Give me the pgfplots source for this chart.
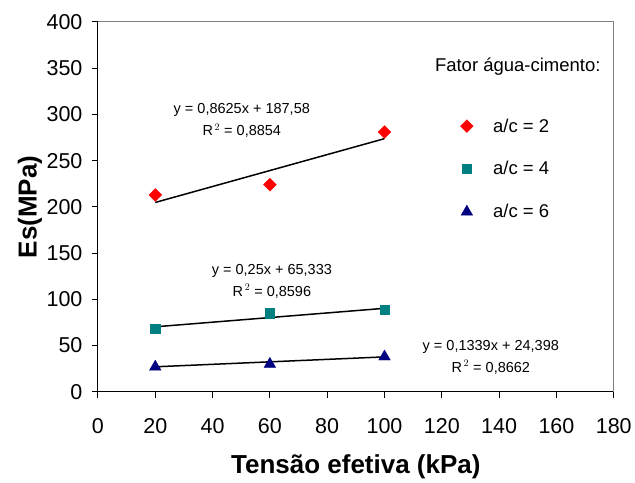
\documentclass[border=0pt]{standalone}
\usepackage{fontspec}
\setmainfont{Liberation Sans}
\usepackage{pgfplots}
\pgfplotsset{compat=1.18}
\definecolor{cred}{RGB}{255,0,0}
\definecolor{cteal}{RGB}{0,128,128}
\definecolor{cnavy}{RGB}{0,0,128}
\begin{document}
\begin{tikzpicture}
\begin{axis}[
  scale only axis, width=516pt, height=370pt,
  xmin=0, xmax=180, ymin=0, ymax=400,
  xtick={0,20,...,180}, ytick={0,50,...,400},
  axis x line*=bottom, axis y line*=left,
  axis line style={-, line width=1pt},
  tick align=outside, major tick length=6pt,
  tick style={black, line width=1pt},
  /pgf/number format/assume math mode=true,
  ticklabel style={font=\fontsize{21.5}{24}\selectfont},
  xticklabel style={yshift=-17pt},
  yticklabel style={xshift=-6pt},
  xlabel={Tensão efetiva (kPa)}, ylabel={Es(MPa)},
  label style={font=\fontsize{26}{30}\selectfont\bfseries},
  xlabel style={at={(axis description cs:0.5,-0.2027)}, anchor=center},
  ylabel style={at={(axis description cs:-0.132,0.5)}, anchor=center},
  clip=false,
  legend style={at={(axis cs:125.4,300)}, anchor=north west, draw=none, fill=none,
    font=\fontsize{18.5}{21}\selectfont, row sep=24pt, column sep=18pt},
  legend cell align=left,
]
\addplot[only marks, mark=square*, mark size=4.5pt, mark options={rotate=45, draw=cred, fill=cred}]
  coordinates {(20,213) (60,224) (100,281)};
\addlegendentry{a/c = 2}
\addplot[only marks, mark=square*, mark size=4.7pt, mark options={draw=cteal, fill=cteal}]
  coordinates {(20,68) (60,85) (100,89)};
\addlegendentry{a/c = 4}
\addplot[only marks, mark=triangle*, mark size=6.7pt, mark options={draw=cnavy, fill=cnavy}]
  coordinates {(20,27) (60,30) (100,38)};
\addlegendentry{a/c = 6}
\addplot[black, line width=1.5pt, forget plot] coordinates {(20,204.83) (100,273.83)};
\addplot[black, line width=1.5pt, forget plot] coordinates {(20,70.33) (100,90.33)};
\addplot[black, line width=1.5pt, forget plot] coordinates {(20,27.08) (100,37.79)};
\draw[gray, line width=1pt] (rel axis cs:0,1) -- (rel axis cs:1,1) -- (rel axis cs:1,0);
\begin{scope}[every node/.style={font=\fontsize{14.5}{17}\selectfont}]
\node at (axis cs:50.2,304.9) {y = 0,8625x + 187,58};
\node at (axis cs:50.2,282) {R$^{\,2}$ = 0,8854};
\node at (axis cs:60.7,131.1) {y = 0,25x + 65,333};
\node at (axis cs:60.7,108.9) {R$^{\,2}$ = 0,8596};
\node at (axis cs:137.1,49) {y = 0,1339x + 24,398};
\node at (axis cs:137.1,26.7) {R$^{\,2}$ = 0,8662};
\end{scope}
\node[font=\fontsize{18.5}{21}\selectfont] at (axis cs:146.5,351.4) {Fator água-cimento:};
\end{axis}
\path ([shift={(-98pt,-90pt)}]current axis.south west) rectangle ([shift={(21pt,22pt)}]current axis.north east);
\end{tikzpicture}
\end{document}
